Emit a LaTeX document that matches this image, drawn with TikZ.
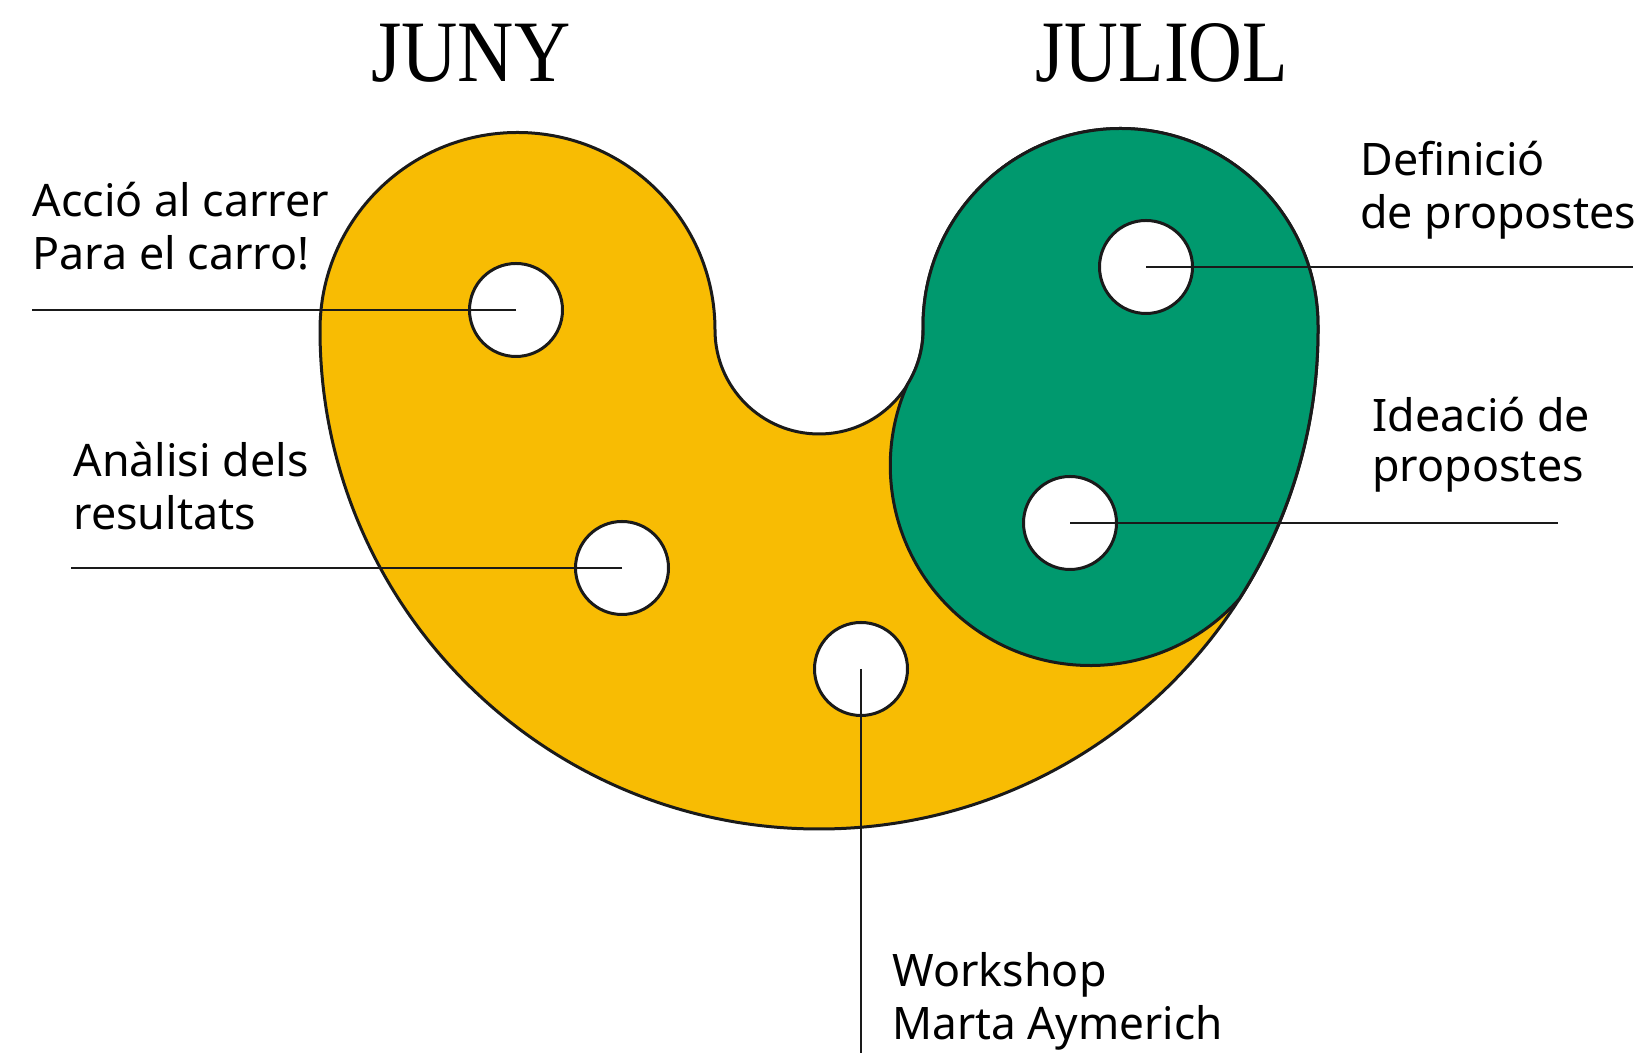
\documentclass[tikz,border=0pt]{standalone}
\usepackage{fontspec}
\setmainfont{Liberation Serif}
\newfontfamily\bodyfont{Noto Sans}
\definecolor{kyellow}{HTML}{F8BC03}
\definecolor{kgreen}{HTML}{00996E}
\definecolor{kline}{HTML}{1A1A1A}
\tikzset{
  outline/.style={draw=kline, line width=1.5pt, line join=round},
  hole/.style={circle, fill=white, draw=kline, line width=1.5pt, minimum size=46.5pt, inner sep=0pt},
  leader/.style={draw=kline, line width=1.3pt},
  lbl/.style={anchor=base west, inner sep=0pt, font=\bodyfont\fontsize{22.4}{26}\selectfont},
  ttl/.style={anchor=base, inner sep=0pt, font=\fontsize{43.8}{50}\selectfont}
}
\begin{document}
\begin{tikzpicture}[x=0.5pt,y=0.5pt]
\useasboundingbox (0,0) rectangle (1644,1053);
% titles
\node[ttl] (tjuny) at (471,971) {\scalebox{0.89}[1]{JUNY}};
\node[ttl] (tjuliol) at (1162,971) {\scalebox{0.85}[1]{JULIOL}};
% yellow shape
\path[outline, fill=kyellow] (320,723)
  arc[start angle=180, end angle=0, radius=197.5]
  arc[start angle=180, end angle=360, radius=104]
  -- (923,727)
  arc[start angle=180, end angle=0, radius=197.5]
  -- (1318,723)
  arc[start angle=0, end angle=-180, radius=499] -- cycle;
% green shape
\path[outline, fill=kgreen] (923,723) -- (923,727)
  arc[start angle=180, end angle=0, radius=197.5]
  -- (1318,723)
  arc[start angle=0, end angle=-32.6, radius=499]
  arc[start angle=-41.8, end angle=-204, radius=200]
  arc[start angle=-31.8, end angle=0, radius=104] -- cycle;
% holes
\node[hole] (h1) at (516,743) {};
\node[hole] (h2) at (622,485) {};
\node[hole] (h3) at (861,384) {};
\node[hole] (h4) at (1146,786) {};
\node[hole] (h5) at (1070,530) {};
% leader ends
\coordinate (e1) at (32,743);
\coordinate (e2) at (71,485);
\coordinate (e3) at (861,-5);
\coordinate (e4) at (1633,786);
\coordinate (e5) at (1558,530);
\draw[leader] (h1.center) -- (e1);
\draw[leader] (h2.center) -- (e2);
\draw[leader] (h3.center) -- (e3);
\draw[leader] (h4.center) -- (e4);
\draw[leader] (h5.center) -- (e5);
% labels
\node[lbl] (a1) at (32,836) {Acció al carrer};
\node[lbl] (a2) at (32,783) {Para el carro!};
\node[lbl] (b1) at (73,576) {Anàlisi dels};
\node[lbl] (b2) at (73,523) {resultats};
\node[lbl] (c1) at (1360,877) {Definició};
\node[lbl] (c2) at (1360,824) {de propostes};
\node[lbl] (d1) at (1372,621) {Ideació de};
\node[lbl] (d2) at (1372,571) {propostes};
\node[lbl] (w1) at (892,66) {Workshop};
\node[lbl] (w2) at (892,13) {\scalebox{0.985}[1]{Marta Aymerich}};
\end{tikzpicture}
\end{document}
